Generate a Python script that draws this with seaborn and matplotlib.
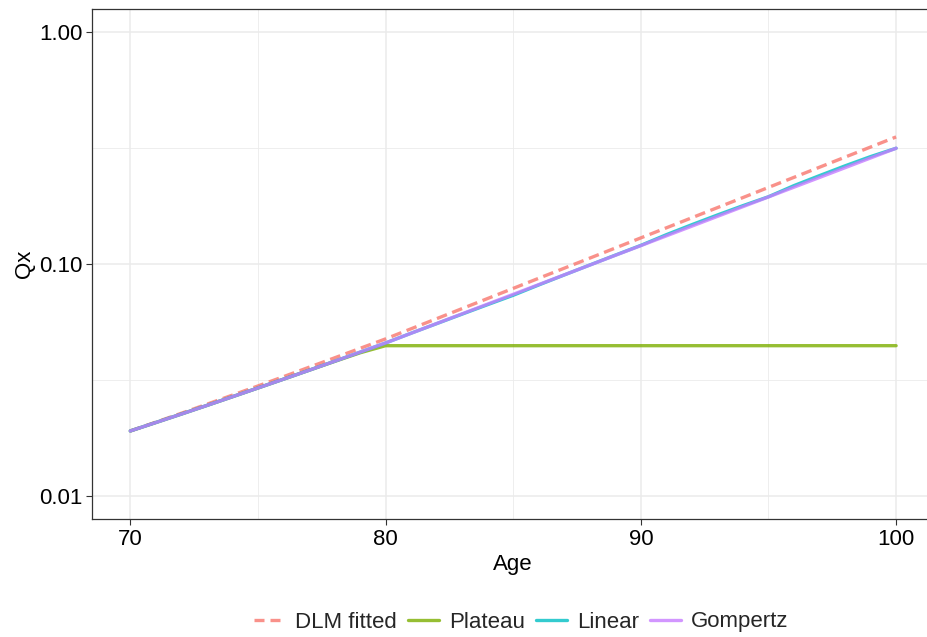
import numpy as np
import pandas as pd
import matplotlib
matplotlib.use("Agg")
import matplotlib.pyplot as plt
from matplotlib.ticker import FixedLocator, NullFormatter
from matplotlib.lines import Line2D
import seaborn as sns

# Ages et taux de mortalité
ages = list(range(70, 101))

dlm_fitted = [0.01906, 0.02080, 0.02272, 0.02485, 0.02720, 0.02979, 0.03267, 0.03587,
              0.03938, 0.04327, 0.04754, 0.05256, 0.05810, 0.06424, 0.07101, 0.07850,
              0.08680, 0.09592, 0.1060, 0.1172, 0.1296, 0.1432, 0.1583, 0.1750,
              0.1934, 0.2139, 0.2364, 0.2614, 0.2889, 0.3194, 0.3531]

plateau = [0.01906, 0.02072, 0.02254, 0.02455, 0.02677, 0.02920, 0.03187, 0.03481,
           0.03800, 0.04140, 0.04444, 0.04444, 0.04444, 0.04444, 0.04444, 0.04444,
           0.04444, 0.04444, 0.04444, 0.04444, 0.04444, 0.04444, 0.04444, 0.04444,
           0.04444, 0.04444, 0.04444, 0.04444, 0.04444, 0.04444, 0.04444]

linear = [0.01906, 0.02072, 0.02254, 0.02455, 0.02677, 0.02920, 0.03187, 0.03481,
          0.03807, 0.04167, 0.04565, 0.05030, 0.05530, 0.06080, 0.06680, 0.07330,
          0.08120, 0.08970, 0.09900, 0.1092, 0.1203, 0.1338, 0.1478, 0.1627,
          0.1785, 0.1950, 0.2178, 0.2405, 0.2650, 0.2905, 0.3156]

gompertz = [0.01906, 0.02072, 0.02254, 0.02455, 0.02677, 0.02920, 0.03187, 0.03481,
            0.03807, 0.04167, 0.04565, 0.05028, 0.05538, 0.06100, 0.06719, 0.07401,
            0.08152, 0.08980, 0.09891, 0.1090, 0.1200, 0.1322, 0.1456, 0.1604,
            0.1767, 0.1946, 0.2144, 0.2361, 0.2601, 0.2865, 0.3156]

models = ["DLM fitted", "Plateau", "Linear", "Gompertz"]
colors = ["#F8766D", "#7CAE00", "#00BFC4", "#C77CFF"]

df = pd.concat([
    pd.DataFrame({"Age": ages, "Qx": vals, "Model": name})
    for name, vals in zip(models, [dlm_fitted, plateau, linear, gompertz])
], ignore_index=True)

sns.set_theme(style="white")
plt.rcParams["font.family"] = ["Liberation Sans", "DejaVu Sans"]

fig = plt.figure(figsize=(9.28, 6.37), dpi=100)
ax = fig.add_axes([92 / 928, 118 / 637, 842.4 / 928, 510 / 637])

dash_map = {"DLM fitted": (3.2, 1.7), "Plateau": "", "Linear": "", "Gompertz": ""}
sns.lineplot(data=df, x="Age", y="Qx", hue="Model", style="Model",
             hue_order=models, style_order=models, dashes=dash_map,
             palette=dict(zip(models, colors)), linewidth=2.4, alpha=0.8,
             legend=False, ax=ax)

ax.set_yscale("log")
ax.set_ylim(10 ** -2.0995, 10 ** 0.0995)
ax.set_xlim(68.5, 101.5)

ax.yaxis.set_major_locator(FixedLocator([0.01, 0.1, 1.0]))
ax.set_yticklabels(["0.01", "0.10", "1.00"])
ax.yaxis.set_minor_locator(FixedLocator([10 ** -1.5, 10 ** -0.5]))
ax.yaxis.set_minor_formatter(NullFormatter())
ax.xaxis.set_major_locator(FixedLocator([70, 80, 90, 100]))
ax.xaxis.set_minor_locator(FixedLocator([75, 85, 95]))

ax.grid(which="major", color="#EBEBEB", linewidth=1.1)
ax.grid(which="minor", color="#EBEBEB", linewidth=0.6)
ax.set_axisbelow(True)

ax.tick_params(which="major", length=4, width=0.8, color="#333333",
               labelsize=16, labelcolor="black", pad=3, left=True, bottom=True)
ax.tick_params(which="minor", length=0)
for sp in ax.spines.values():
    sp.set_color("#333333")
    sp.set_linewidth(0.9)

ax.set_xlabel("Age", fontsize=16, color="black", labelpad=3)
ax.set_ylabel("Qx", fontsize=16, color="black", labelpad=3)

handles = [Line2D([], [], color=c, alpha=0.8, linewidth=2.4,
                  dashes=(3.0, 1.8) if m == "DLM fitted" else (None, None))
           for m, c in zip(models, colors)]
fig.legend(handles, models, loc="center", bbox_to_anchor=(521 / 928, 1 - 622 / 637),
           ncol=4, frameon=False, fontsize=16, handlelength=1.4,
           handletextpad=0.45, columnspacing=0.5)

fig.savefig("out.png", dpi=100)
